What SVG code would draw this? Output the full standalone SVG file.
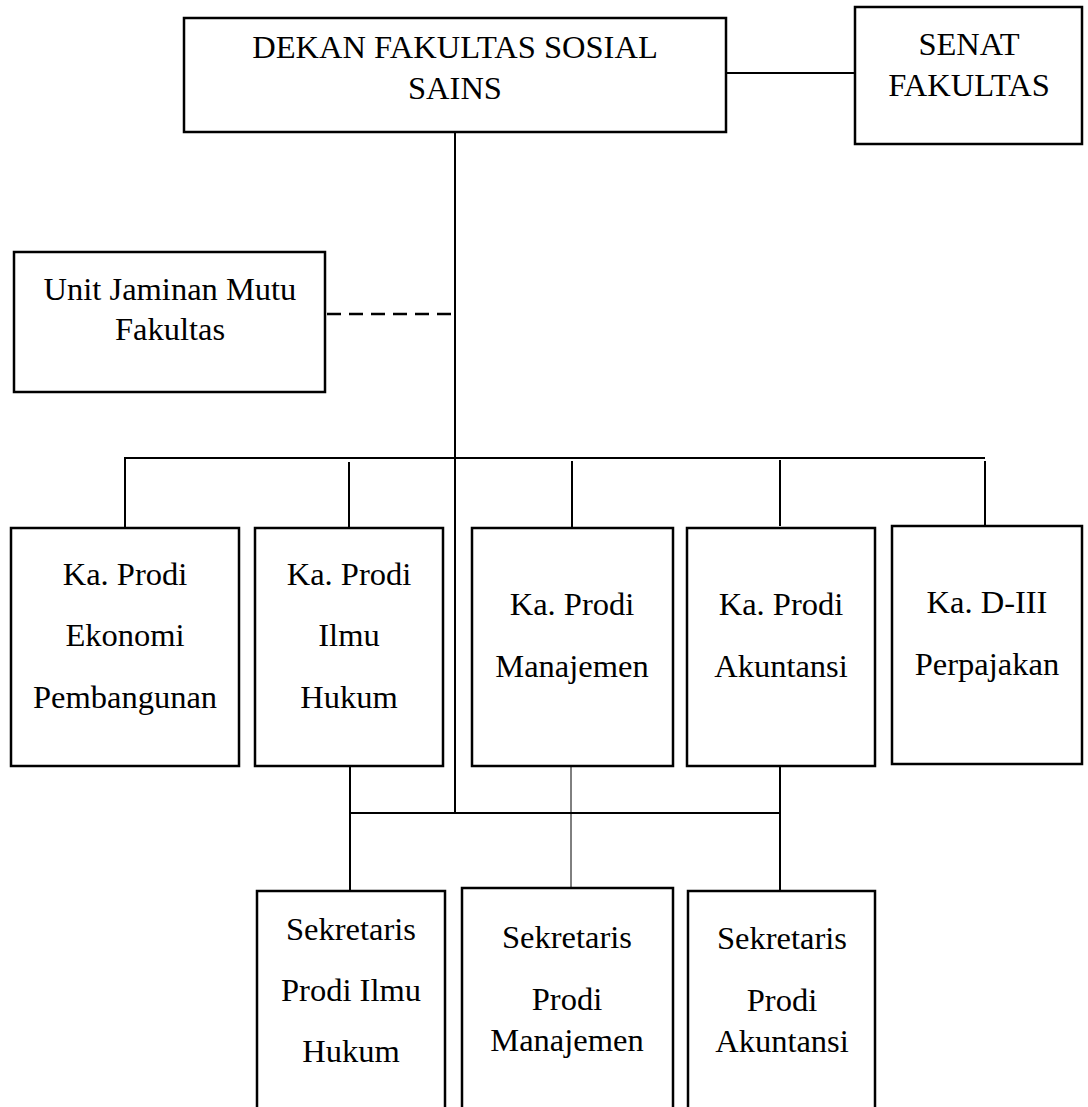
<svg xmlns="http://www.w3.org/2000/svg" width="1088" height="1107" viewBox="0 0 1088 1107">
<style>
.box{fill:#fff;stroke:#000;stroke-width:2.5}
.ln{fill:none;stroke:#000;stroke-width:2}
.thin{fill:none;stroke:#000;stroke-width:1}
.dash{fill:none;stroke:#000;stroke-width:2.5;stroke-dasharray:14 8}
text{font-family:"Liberation Serif","Times New Roman",serif;font-size:32.5px;fill:#000;text-anchor:middle}
</style>
<rect width="1088" height="1107" fill="#fff"/>
<g id="connectors">
<line class="ln" x1="726" y1="73" x2="855" y2="73"/>
<line class="ln" x1="455" y1="132" x2="455" y2="813"/>
<line class="dash" x1="327" y1="314" x2="455" y2="314"/>
<line class="ln" x1="124" y1="458" x2="985" y2="458"/>
<line class="ln" x1="125" y1="458" x2="125" y2="528"/>
<line class="ln" x1="349" y1="462" x2="349" y2="528"/>
<line class="ln" x1="572" y1="461" x2="572" y2="528"/>
<line class="ln" x1="780" y1="460" x2="780" y2="526"/>
<line class="ln" x1="985" y1="461" x2="985" y2="526"/>
<line class="ln" x1="350" y1="766" x2="350" y2="891"/>
<line class="ln" x1="780" y1="766" x2="780" y2="891"/>
<line class="ln" x1="349" y1="813" x2="781" y2="813"/>
<line class="thin" x1="571" y1="766" x2="571" y2="888"/>
</g>
<g id="dekan">
<rect class="box" x="184" y="18" width="542" height="114"/>
<text x="455" y="58">DEKAN FAKULTAS SOSIAL</text>
<text x="455" y="99">SAINS</text>
</g>
<g id="senat">
<rect class="box" x="855" y="7" width="227" height="137"/>
<text x="969" y="55">SENAT</text>
<text x="969" y="96">FAKULTAS</text>
</g>
<g id="unit-jaminan-mutu">
<rect class="box" x="14" y="252" width="311" height="140"/>
<text x="170" y="300">Unit Jaminan Mutu</text>
<text x="170" y="340">Fakultas</text>
</g>
<g id="kaprodi-ekonomi">
<rect class="box" x="11" y="528" width="228" height="238"/>
<text x="125" y="585">Ka. Prodi</text>
<text x="125" y="646">Ekonomi</text>
<text x="125" y="708">Pembangunan</text>
</g>
<g id="kaprodi-hukum">
<rect class="box" x="255" y="528" width="188" height="238"/>
<text x="349" y="585">Ka. Prodi</text>
<text x="349" y="646">Ilmu</text>
<text x="349" y="708">Hukum</text>
</g>
<g id="kaprodi-manajemen">
<rect class="box" x="472" y="528" width="201" height="238"/>
<text x="572" y="615">Ka. Prodi</text>
<text x="572" y="677">Manajemen</text>
</g>
<g id="kaprodi-akuntansi">
<rect class="box" x="687" y="528" width="188" height="238"/>
<text x="781" y="615">Ka. Prodi</text>
<text x="781" y="677">Akuntansi</text>
</g>
<g id="ka-d3-perpajakan">
<rect class="box" x="892" y="526" width="190" height="238"/>
<text x="987" y="613">Ka. D-III</text>
<text x="987" y="675">Perpajakan</text>
</g>
<g id="sekretaris-hukum">
<rect class="box" x="257" y="891" width="188" height="240"/>
<text x="351" y="940">Sekretaris</text>
<text x="351" y="1001">Prodi Ilmu</text>
<text x="351" y="1062">Hukum</text>
</g>
<g id="sekretaris-manajemen">
<rect class="box" x="462" y="888" width="211" height="243"/>
<text x="567" y="948">Sekretaris</text>
<text x="567" y="1010">Prodi</text>
<text x="567" y="1051">Manajemen</text>
</g>
<g id="sekretaris-akuntansi">
<rect class="box" x="688" y="891" width="187" height="240"/>
<text x="782" y="949">Sekretaris</text>
<text x="782" y="1011">Prodi</text>
<text x="782" y="1052">Akuntansi</text>
</g>
</svg>
